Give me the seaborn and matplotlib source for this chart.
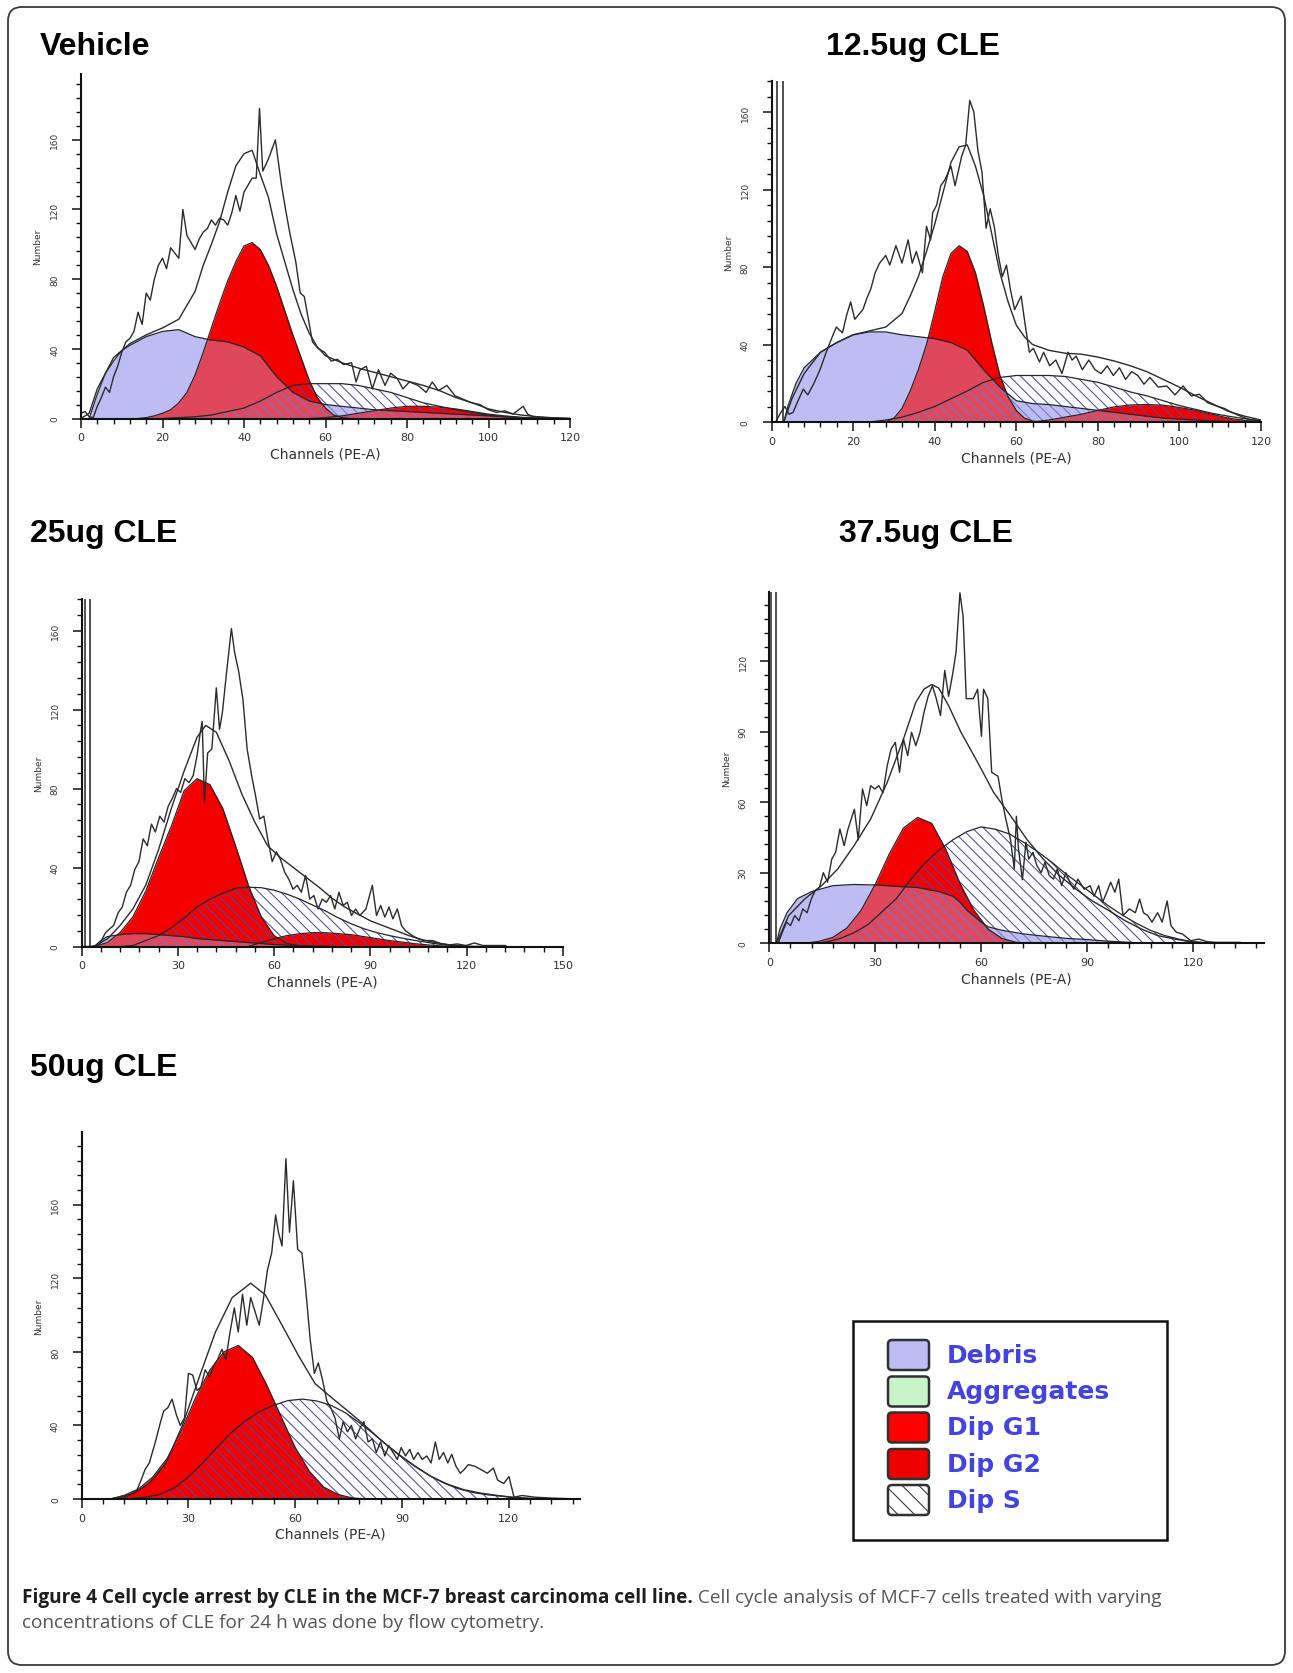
import numpy as np
import matplotlib
matplotlib.use("Agg")
import matplotlib.pyplot as plt
import seaborn as sns
from matplotlib.patches import FancyBboxPatch, Rectangle
from matplotlib.ticker import MultipleLocator
from matplotlib.transforms import IdentityTransform

# ---------------- data (channel, count) ----------------
VEH_RAW = [(0,3),(1,4),(2,1),(3,0.5),(4,7),(5,12),(6,18),(7,15),(8,24),(9,30),(10,38),(11,44),(12,46),(13,50),
           (14,61),(15,54),(16,72),(17,68),(18,80),(19,88),(20,92),(21,86),(22,98),(23,95),(24,92),(25,120),(26,105),
           (27,101),(28,97),(29,103),(30,107),(31,109),(32,114),(33,111),(34,115),(35,114),(36,111),(37,118),(38,128),
           (39,119),(40,130),(41,134),(42,138),(43,138),(43.8,178),(44.6,142),(46,149),(47.7,160),(49.2,134),(50.2,120),
           (51.2,107),(52.7,90),(53.8,72),(54.8,70),(55.8,57),(56.8,44),(58.3,40),(59.8,38),(61.4,33),(62.9,34),(64.4,31),
           (66.4,32),(67.5,21),(68.5,28),(70,30),(71.5,17),(73,28),(74.6,19),(76,26),(77.6,23),(79,17),(80.6,21),(82.7,19),
           (84.7,15),(86.2,21),(87.7,16),(89.8,19),(91.8,13),(93.8,11),(95.9,9),(97.9,8),(100,5),(102,3.5),(104,4.4),
           (106,2.5),(108.5,7),(109.6,2.5),(111,1),(114,0.5),(117,0.2),(120,0)]
VEH_FIT = [(0,0),(2,3),(4,17),(8,35),(12,43),(16,48),(20,52),(24,57),(28,73),(30,88),(32,100),(34,113),(36,130),
           (38,145),(40,152),(42,154),(44,140),(46,127),(48,106),(50,90),(52,74),(54,60),(56,49),(58,41),(60,36),(64,32),
           (68,29),(72,26.5),(76,24),(80,21.5),(84,19),(88,16),(92,12),(96,9),(100,5.5),(104,3.5),(108,2),(112,1),
           (116,0.4),(120,0)]
VEH_DEBRIS = [(2,0),(4,14),(6,26),(8,33),(10,39),(12,42),(16,47),(20,50),(24,51),(28,47),(32,45),(36,44),(40,41),
              (44,36),(48,24),(52,15),(56,10),(60,8),(64,7),(68,6),(72,5),(76,4.5),(80,4),(84,3.5),(88,3),(92,2.5),
              (96,2),(100,1.5),(104,1),(108,0.5),(112,0.2),(116,0),(120,0)]
VEH_G1 = [(14,0),(16,0.5),(18,1.5),(20,3),(22,5),(24,9),(26,15),(28,25),(30,38),(32,52),(34,66),(36,79),(38,90),
          (40,99),(42,101),(44,97),(46,88),(48,76),(50,62),(52,48),(54,35),(56,22),(58,12),(60,6),(62,2),(64,0.5),(66,0)]
VEH_G2 = [(56,0),(60,0.5),(64,1.5),(68,3),(72,4.5),(76,6),(80,7),(84,7),(88,6.5),(92,5.5),(96,4),(100,2.5),
          (104,1.5),(108,0.7),(112,0.2),(116,0)]
VEH_S = [(20,0),(24,0.5),(28,1),(32,2),(36,4),(40,6),(44,10),(48,15),(52,19),(56,20),(60,20),(64,20),(68,19),
         (72,17),(76,15),(80,12),(84,9),(88,7),(92,5),(96,3.5),(100,2),(104,1),(108,0.5),(112,0.2),(116,0)]

P12_RAW = [(0,0),(1,0),(2.3,5),(3.3,8),(4.3,4),(5.3,5),(6.3,10),(7.8,17),(8.9,14),(10.4,20),(11.9,27),(13.4,36),
           (14.9,44),(15.9,49),(17.4,46),(18.4,55),(19.4,62),(20.4,53),(22.4,58),(23.4,64),(24.4,69),(25.4,77),
           (26.5,82),(28,86),(29,81),(30.5,91),(32,82),(33.5,94),(34.5,82),(35.5,88),(37,77),(38,101),(39,94),
           (39.5,108),(40.5,112),(41.5,122),(42.5,125),(44,132),(45,122),(46.6,137),(47.6,143),(48.6,166),(49.6,160),
           (50.6,140),(51.6,129),(52.6,100),(53.6,110),(54.6,101),(55.6,86),(56.6,75),(57.6,81),(58.6,68),(59.6,58),
           (61.2,65),(62.2,50),(63.2,36),(64.2,38),(65.7,31),(66.7,36),(68.2,29),(69.7,32),(71.2,25),(72.7,36),
           (73.7,32),(74.7,34),(76.2,27),(77.8,32),(79.3,27),(80.8,25),(82.3,29),(83.8,24),(85.3,28),(86.8,22),
           (88.3,26),(89.8,24),(91.3,19.5),(92.8,23),(94.8,18),(96.9,18.6),(98.9,14),(100.9,18.6),(102.9,13.4),
           (104.9,14.3),(106.9,10),(109,8.3),(111,7),(113,4.8),(115,3),(117,1.4),(120,0.5)]
P12_FIT = [(3,0),(5,12),(8,25),(12,36),(16,41),(20,45),(24,47),(28,49),(32,56),(34,65),(36,75),(38,88),(40,102),
           (42,118),(44,134),(46,142),(48,143),(50,132),(52,117),(54,97),(56,77),(58,62),(60,50),(62,44),(64,40),
           (68,37),(72,35.5),(76,35),(80,33.5),(84,31.5),(88,29),(92,26),(96,22),(100,18),(104,13.5),(108,9.5),
           (112,5.5),(116,3),(120,1)]
P12_DEBRIS = [(3,0),(4,8),(6,20),(8,28),(12,36),(16,41),(20,45),(24,46.5),(28,46.5),(32,45),(36,44),(40,43),
              (44,41),(48,37),(52,27),(56,18),(60,11),(64,9.5),(68,9),(72,8),(76,7),(80,6),(84,5),(88,4),(92,3),
              (96,2),(100,1.5),(104,1),(108,0.5),(112,0.2),(116,0),(120,0)]
P12_G1 = [(28,0),(30,2),(32,7),(34,16),(36,27),(38,40),(40,57),(42,75),(44,87),(46,91),(48,88),(50,77),(52,60),
          (54,41),(56,24),(58,13),(60,6),(62,2),(64,0.5),(66,0)]
P12_G2 = [(64,0),(68,1),(72,2.5),(76,4),(80,6),(84,7.8),(88,8.8),(92,9),(96,8.7),(100,7.5),(104,6),(108,4),
          (112,2),(116,0.8),(120,0.2)]
P12_S = [(24,0),(28,1),(32,2.5),(36,5),(40,8),(44,12),(48,16),(52,20.5),(56,23),(60,24),(64,24),(68,24),(72,23.5),
         (76,22),(80,20.5),(84,18),(88,15.5),(92,13.5),(96,11),(100,8.5),(104,6.5),(108,4.5),(112,3),(116,1.7),(120,0.5)]

P25_RAW = [(0,0),(4,0),(5.6,1.3),(7.5,7),(8.8,9),(10,10.6),(11.4,17),(12.7,20),(14,27.5),(15.3,31),(16.6,39),
           (17.9,43),(19.2,54.5),(20.5,51),(21.8,62),(23,58),(24.4,66),(25.7,63),(27,71),(28.3,75),(29.6,80),(30.9,78),
           (32.2,85),(33.5,83),(34.8,86.6),(36,96.7),(37,108.5),(37.6,114),(38.3,73),(39.3,98),(40.6,100),(42,131),
           (43,110),(43.9,118.6),(45.2,139),(46.7,161),(47.7,149),(49,139),(50.3,125),(51.6,100),(53,86.6),(54.2,76.5),
           (55.5,64.6),(56.8,66),(58,54.5),(59.4,43),(60.7,48),(62,44),(63.3,37.6),(64.6,34),(65.9,29),(67.2,31),
           (68.5,27.5),(69.8,36),(71.1,24),(72.4,25.8),(73.7,19),(75,24),(76.3,22.4),(77.6,25.8),(78.9,19),(80.2,27.5),
           (81.5,20.8),(82.8,22.4),(84.1,15.7),(85.4,19),(86.7,15.7),(88.6,19),(90.6,31),(91.9,15.7),(93.2,20.8),
           (94.5,14.9),(95.8,20),(97,14),(98.4,19),(99.7,10.6),(100.9,8),(103,5.6),(104.8,3.9),(106.8,3),(109.4,3),
           (112,1.4),(114.6,0.8),(117,1.3),(119.8,0.5),(122.4,1.8),(125,0.5),(132,0.5),(132.5,0)]
P25_FIT = [(3,0),(4.3,0.5),(8.2,4),(12,10.6),(16,19),(20,31),(24,49),(28,70),(32,89),(36,106),(38.7,112),(42,108.5),
           (46,94),(50,77),(54,63),(58,51),(62,45),(66,40),(70,35),(74,30),(78,24.5),(82,20),(86,16.5),(90,13),
           (94,10.5),(98,8),(102,5.5),(106,3.5),(110,2),(114,1),(118,0.4),(122,0.1),(126,0)]
P25_DEBRIS = [(4,0),(6,3),(8,5),(12,6),(16,6.5),(20,6.5),(24,6),(28,5.5),(32,5),(36,4),(40,3.5),(44,3),(48,2.5),
              (52,2),(56,1.5),(60,1),(64,0.7),(68,0.5),(72,0.3),(80,0)]
P25_G1 = [(4,0),(8,2),(12,7),(16,15),(20,28),(24,45),(28,61),(32,79),(36,85),(40,82),(44,70),(48,51),(52,31),
          (56,15),(60,5.5),(64,1.5),(68,0.3),(72,0)]
P25_G2 = [(52,0),(56,2),(60,4),(64,5.5),(68,6.5),(72,7),(76,7),(80,6.5),(84,6),(88,5),(92,4),(96,3),(100,2.2),
          (104,1.4),(108,0.8),(112,0.3),(116,0)]
P25_S = [(12,0),(16,0.5),(20,3),(24,5.5),(28,9.5),(32,14.5),(36,20),(40,24),(44,27),(48,29.5),(52,30),(56,29.8),
         (60,28.5),(64,26.5),(68,24),(72,21),(76,18),(80,14.5),(84,11.5),(88,9),(92,7),(96,5.5),(100,4.2),(104,3),
         (108,2),(112,1),(116,0.4),(120,0)]

P37_RAW = [(0,0),(2,0),(2.6,0.4),(3.7,4.7),(4.9,9),(6,7.5),(7.2,11.8),(8.4,9.6),(9.5,14.6),(10.7,13),(11.9,18.8),
           (13,22.4),(14.2,23.8),(15.3,30),(16.5,26),(17.7,35.8),(18.8,38.7),(20,48.6),(21.2,41.5),(22.3,48.6),
           (24.1,57),(25.2,44),(26.4,65.6),(27.6,58.5),(28.7,67),(29.9,65.6),(31,67),(32.2,64),(33.4,75.5),(34.5,82.6),
           (35.7,85.4),(36.9,72.7),(38,86.8),(39.2,79.8),(40.3,89.7),(41.5,84),(42.7,89.7),(43.8,98),(45,105),
           (46.2,109.5),(47.3,104),(48.5,96.8),(49.7,116),(50.8,105),(52,115),(52.9,123.7),(54,149),(54.9,139),
           (55.8,104),(57.8,104),(59,108),(60.1,88),(60.7,108),(61.9,104),(63,72.7),(64.8,71),(65.9,61),(67,52.8),
           (68.3,44.3),(69.4,31.6),(70,54),(70.6,40),(71.7,27),(72.7,43),(73.5,35.8),(74.7,38.7),(75.8,33),(77,30),
           (78.1,34.4),(79.3,28.8),(80.5,27.3),(81.6,31.6),(82.8,24.5),(84,30),(85.1,26),(86.3,23),(87.4,27.3),
           (89.2,23),(90.9,24.5),(92,20),(93.3,24.5),(94.4,17.4),(95.6,21.7),(96.7,26),(97.9,21.7),(99,27.3),
           (100.2,11.8),(102,14.6),(103.7,13),(104.9,18.8),(106,13),(107.2,11.8),(108.4,9),(110,13),(111.3,9),
           (112.7,18),(113.8,7.5),(115.3,4.7),(117,4),(119.4,1.1),(121.7,1.8),(124,0.7),(126.4,0.4),(133.4,0.4),(134,0)]
P37_FIT = [(2,0),(2.6,1.8),(5.5,11.8),(10,18.8),(14.8,24.5),(19.4,31.6),(24,41.5),(28.7,52.8),(33.4,68.4),(38,86.8),
           (41.5,102.4),(43.8,108),(46,110),(48,108.5),(50.8,101),(54.3,89.7),(59,77),(63.6,64),(68.3,54.3),(72.9,44.3),
           (77.6,35.8),(82.2,28.8),(86.9,23),(91.5,18),(96.2,13.9),(100.8,9.6),(105.5,6),(110,3.3),(114.8,1.8),
           (119.4,0.7),(124,0.2),(128,0)]
P37_DEBRIS = [(2,0),(3,6),(5,13),(8,19),(12,22),(18,24.5),(24,25),(30,24.8),(36,24.2),(42,23.7),(48,22),(52,20),
              (54,17.5),(56,14),(58,11.5),(60,9),(62,7),(66,5.5),(72,4),(78,3),(84,2.1),(90,1.6),(96,0.9),(102,0.4),(108,0)]
P37_G1 = [(10,0),(14,0.8),(18,2.5),(22,6.5),(26,14),(30,25),(34,38),(38,49),(42,53.5),(46,51),(50,40),(54,25.5),
          (58,14),(62,6),(66,2),(70,0.4),(74,0)]
P37_S = [(12,0),(16,0.5),(20,2),(24,4.5),(28,8),(32,13.5),(36,19),(40,27),(44,34),(48,39.5),(52,44),(56,47.5),
         (60,49.5),(64,48.5),(68,46.5),(72,43),(76,39),(80,34.5),(84,29.5),(88,25),(92,20.5),(96,16),(100,12),
         (104,8.5),(108,5.5),(112,3.3),(116,1.8),(120,0.6),(124,0.1),(128,0)]

P50_RAW = [(0,0),(8.5,0),(12,0.5),(15.5,4.7),(16.7,10.3),(17.8,16),(19,19.6),(20.7,31),(21.9,40),(23,47.7),
           (24.2,49.6),(25.4,54.3),(26.6,45.8),(27.7,40),(28.9,44),(30,68.3),(31.2,67.4),(32.4,59),(33.5,60.8),
           (34.7,70.2),(35.9,66.4),(37,72),(38.2,75.8),(39.4,81.4),(40.5,75.8),(41.7,90.8),(42.9,103.9),(44,90.8),
           (45.2,111.3),(46.4,94.5),(47.5,109.5),(48.7,102),(49.9,94.5),(51,107.6),(52.2,124.4),(53.4,133.8),
           (54.5,154.4),(55.3,145),(56.3,137.5),(57.4,185),(58.4,145),(59.5,173),(60.7,135.7),(61.9,133.8),
           (63,113.2),(64.2,87),(65.4,68.3),(66.5,74),(67.7,64.6),(68.9,53.3),(70,49.6),(71.2,44),(72.4,32.7),
           (73.5,42),(74.7,36.5),(75.8,40),(77,32.7),(78.2,38.4),(79.3,42),(80.5,31),(81.7,32.7),(82.8,25.3),(84,31),
           (85.2,23.4),(86.3,29),(87.5,25.3),(88.7,21.5),(89.8,28),(91,23.4),(92.2,27),(93.3,21.5),(94.5,25.3),
           (95.7,21.5),(97,23.4),(98.2,19.6),(99.4,31),(100.5,21.5),(101.7,25.3),(102.9,19.6),(104,24.3),
           (105.2,17.8),(106.4,14),(107.5,16),(108.7,18.7),(110.5,17.8),(112.2,16),(114,14),(115.7,16.8),
           (116.9,10.3),(118.6,8.4),(120.1,12.2),(121.5,1),(123.8,1.9),(127.3,1),(132,0.5),(139.6,0)]
P50_FIT = [(8,0),(9.7,0.6),(14.3,2.8),(19,8.4),(23.7,19.6),(28.3,40),(33,66),(37.6,90.8),(42.3,109.5),(47.5,117.3),
           (51.6,111),(56.3,94.5),(61,77.7),(65.6,62.7),(70.3,55),(74.9,47.7),(79.6,40),(84.2,31.8),(88.9,24.3),
           (93.6,17.8),(98.2,12.2),(102.9,8),(107.5,5),(112.2,3.2),(116.9,1.9),(121.5,0.9),(126,0.4),(132,0)]
P50_G1 = [(8,0),(12,2),(16,5.5),(20,12),(24,22),(28,37),(32,55),(36,70),(40,80),(44,83.5),(48,77),(52,62),(56,45),
          (60,28),(64,15),(68,6.5),(72,2.5),(76,0.6),(80,0)]
P50_S = [(10,0),(14,0.3),(18,1),(22,2.5),(26,6),(30,12),(34,19.5),(38,28),(42,36),(46,42.5),(50,47.5),(54,51),
         (58,53.5),(62,54.3),(66,53.3),(70,51),(74,47),(78,41.5),(82,35.5),(86,29),(90,23),(94,17.5),(98,12.5),
         (102,8.5),(106,5.5),(110,3.5),(114,2.3),(118,1.5),(122,0.6),(126,0.1),(130,0)]

TITLES = ["Vehicle", "12.5ug CLE", "25ug CLE", "37.5ug CLE", "50ug CLE"]
LEGEND_LABELS = ["Debris", "Aggregates", "Dip G1", "Dip G2", "Dip S"]
X_LABEL = "Channels (PE-A)"
Y_LABEL = "Number"
CAP_BOLD = "Figure 4 Cell cycle arrest by CLE in the MCF-7 breast carcinoma cell line."
CAP_REST = " Cell cycle analysis of MCF-7 cells treated with varying"
CAP_LINE2 = "concentrations of CLE for 24 h was done by flow cytometry."

# ---------------- styling ----------------
W, H, DPI = 1293, 1674, 100
DEBRIS_C = "#bdbdf3"
AGG_C = "#c8f2c8"
RED = "#f40000"
HATCH_C = "#4a4aa6"
LINE_C = "#2b2b2b"
OUT_C = "#262626"
S_HATCH = "\\\\\\"

sns.set_style("ticks")
plt.rcParams["font.family"] = ["DejaVu Sans"]
plt.rcParams["hatch.linewidth"] = 0.75
plt.rcParams["hatch.color"] = HATCH_C

fig = plt.figure(figsize=(W / DPI, H / DPI), dpi=DPI)
fig.patch.set_facecolor("white")

# panel layout in pixels: left, right, top, bottom
PANELS = [
    dict(title=TITLES[0], tx=40, ty=55, box=(81, 570, 74.6, 419.5), xmax=120, ymax=198, xmaj=20, xmin=4, ymaj=40, ymin=8,
         raw=VEH_RAW, fit=VEH_FIT, debris=VEH_DEBRIS, g1=VEH_G1, g2=VEH_G2, s=VEH_S, gates=[]),
    dict(title=TITLES[1], tx=826, ty=55, box=(771.5, 1261, 82, 423), xmax=120, ymax=176, xmaj=20, xmin=4, ymaj=40, ymin=8,
         raw=P12_RAW, fit=P12_FIT, debris=P12_DEBRIS, g1=P12_G1, g2=P12_G2, s=P12_S, gates=[1.3, 2.8]),
    dict(title=TITLES[2], tx=30, ty=542, box=(81.5, 563, 600, 947.5), xmax=150, ymax=176, xmaj=30, xmin=6, ymaj=40, ymin=8,
         raw=P25_RAW, fit=P25_FIT, debris=P25_DEBRIS, g1=P25_G1, g2=P25_G2, s=P25_S, gates=[1.0, 2.7]),
    dict(title=TITLES[3], tx=839, ty=542, box=(769.3, 1263.5, 592.6, 944.3), xmax=140, ymax=149.5, xmaj=30, xmin=6, ymaj=30, ymin=6,
         raw=P37_RAW, fit=P37_FIT, debris=P37_DEBRIS, g1=P37_G1, g2=None, s=P37_S, gates=[0.6, 2.0]),
    dict(title=TITLES[4], tx=30, ty=1076, box=(81.7, 579.8, 1133, 1500), xmax=140, ymax=199.5, xmaj=30, xmin=6, ymaj=40, ymin=8,
         raw=P50_RAW, fit=P50_FIT, debris=None, g1=P50_G1, g2=None, s=P50_S, gates=[]),
]


def xy(pairs):
    a = np.asarray(pairs, dtype=float)
    return a[:, 0], a[:, 1]


def line(ax, pairs, color, lw, z):
    x, y = xy(pairs)
    sns.lineplot(x=x, y=y, ax=ax, color=color, linewidth=lw, estimator=None, sort=False, zorder=z)


for p in PANELS:
    l, r, t, b = p["box"]
    ax = fig.add_axes([l / W, 1 - b / H, (r - l) / W, (b - t) / H])
    ax.set_facecolor("none")

    if p["debris"] is not None:
        dx, dy = xy(p["debris"])
        ax.fill_between(dx, 0, dy, color=DEBRIS_C, lw=0, zorder=1)
    for key in ("g1", "g2"):
        if p[key] is not None:
            gx, gy = xy(p[key])
            ax.fill_between(gx, 0, gy, color=RED, lw=0, zorder=2)
    sx, sy = xy(p["s"])
    ax.fill_between(sx, 0, sy, facecolor="none", edgecolor=HATCH_C, hatch=S_HATCH, lw=0, zorder=3)
    if p["debris"] is not None:
        ax.fill_between(dx, 0, dy, color=DEBRIS_C, alpha=0.38, lw=0, zorder=4)

    for key in ("debris", "g1", "g2", "s"):
        if p[key] is not None:
            line(ax, p[key], OUT_C, 0.9, 5)
    line(ax, p["fit"], LINE_C, 1.0, 6)
    line(ax, p["raw"], LINE_C, 1.0, 7)
    for g in p["gates"]:
        ax.axvline(g, color="#202020", lw=1.1, zorder=8)

    ax.set_xlim(0, p["xmax"])
    ax.set_ylim(0, p["ymax"])
    ax.xaxis.set_major_locator(MultipleLocator(p["xmaj"]))
    ax.xaxis.set_minor_locator(MultipleLocator(p["xmin"]))
    ax.yaxis.set_major_locator(MultipleLocator(p["ymaj"]))
    ax.yaxis.set_minor_locator(MultipleLocator(p["ymin"]))
    for sp in ("top", "right"):
        ax.spines[sp].set_visible(False)
    for sp in ("left", "bottom"):
        ax.spines[sp].set_linewidth(1.5)
        ax.spines[sp].set_color("#111111")
        ax.spines[sp].set_zorder(9)
    ax.tick_params(which="both", direction="out", bottom=True, left=True, color="#111111")
    ax.tick_params(which="major", length=6.5, width=1.1)
    ax.tick_params(which="minor", length=3.6, width=1.0)
    ax.tick_params(axis="x", labelsize=8, pad=3.5, labelcolor="#333333")
    ax.tick_params(axis="y", labelsize=6.5, pad=9.2, labelcolor="#333333", labelrotation=90)
    for lab in ax.get_yticklabels():
        lab.set_va("center")
    ax.grid(False)

    ax.set_xlabel(X_LABEL, fontsize=10, color="#333333")
    ax.set_ylabel(Y_LABEL, fontsize=6.5, color="#333333")
    ax.xaxis.label.set_va("center")
    ax.yaxis.label.set_va("center")
    ax.xaxis.set_label_coords(0.5, -35.0 / (b - t))
    ax.yaxis.set_label_coords(-43.0 / (r - l), 0.5)

    fig.text(p["tx"] / W, 1 - p["ty"] / H, p["title"], fontsize=23, fontweight="bold",
             family=["Liberation Sans", "DejaVu Sans"], ha="left", va="baseline", color="black")

# ---------------- legend box ----------------
fig.add_artist(Rectangle((853, H - 1541), 314, 219, transform=IdentityTransform(),
                         facecolor="white", edgecolor="#111111", lw=1.8))
sw_fc = [DEBRIS_C, AGG_C, "#ff0000", "#ee0000", "white"]
row_c = [1356, 1392.5, 1428.5, 1465, 1501]
for lab, fc, yc in zip(LEGEND_LABELS, sw_fc, row_c):
    sw = FancyBboxPatch((888, H - yc - 15), 41, 30, boxstyle="round,pad=0,rounding_size=4",
                        transform=IdentityTransform(), facecolor=fc, edgecolor="#303030", lw=1.8,
                        hatch=("\\\\" if lab == "Dip S" else None))
    fig.add_artist(sw)
    fig.text(947 / W, 1 - yc / H, lab, fontsize=18, fontweight="bold", color="#4343e2",
             ha="left", va="center", family=["DejaVu Sans"])

# ---------------- caption (fitted to the reference width) ----------------
CAP_FONT = ["Open Sans", "DejaVu Sans"]
renderer = fig.canvas.get_renderer()
tmp1 = fig.text(0, 0, CAP_BOLD, fontsize=12, fontweight="bold", family=CAP_FONT)
tmp2 = fig.text(0, 0, CAP_REST, fontsize=12, family=CAP_FONT)
wtot = tmp1.get_window_extent(renderer).width + tmp2.get_window_extent(renderer).width
tmp1.remove(); tmp2.remove()
fs = 12 * 1136.0 / wtot
x0 = 22
t1 = fig.text(x0 / W, 1 - 1598 / H, CAP_BOLD, fontsize=fs, fontweight="bold", family=CAP_FONT,
              color="#1e1e1e", ha="left", va="center")
bb = t1.get_window_extent(renderer)
fig.text(bb.x1 / W, 1 - 1598 / H, CAP_REST, fontsize=fs, family=CAP_FONT, color="#555555",
         ha="left", va="center")
fig.text(x0 / W, 1 - 1623 / H, CAP_LINE2, fontsize=fs, family=CAP_FONT, color="#555555",
         ha="left", va="center")

# ---------------- outer rounded frame ----------------
fig.add_artist(FancyBboxPatch((8, H - 1666), 1277, 1658, boxstyle="round,pad=0,rounding_size=14",
                              transform=IdentityTransform(), facecolor="none", edgecolor="#3a3a3a", lw=1.3))

fig.savefig("out.png", dpi=DPI)
